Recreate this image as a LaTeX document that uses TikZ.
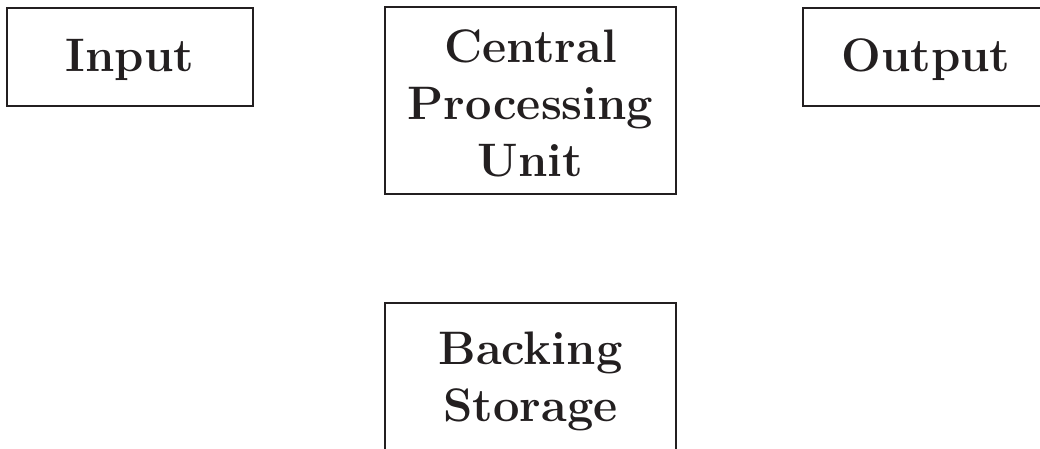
\documentclass[tikz,border=0pt]{standalone}
\begin{document}
\begin{tikzpicture}[x=1pt,y=-1pt,
  unitbox/.style={draw=boxcol,line width=2.8pt,rectangle,inner sep=0pt},
  unittext/.style={inner sep=0pt,align=center,
    font=\bfseries\fontsize{47}{57}\selectfont,text=boxcol}]
\definecolor{boxcol}{HTML}{231F20}
\useasboundingbox (0,0) rectangle (1040,449);
\clip (0,0) rectangle (1040,449);
\node[unitbox,minimum width=246pt,minimum height=98pt] (input) at (130,57) {};
\node[unittext] (inputt) at ([yshift=-3pt]input.center) {Input};
\node[unitbox,minimum width=291pt,minimum height=187pt] (cpu) at (530.5,100.5) {};
\node[unittext] (cput) at ([yshift=-3pt]cpu.center) {Central\\Processing\\Unit};
\node[unitbox,minimum width=246pt,minimum height=98pt] (output) at (926,57) {};
\node[unittext] (outputt) at ([yshift=-3pt]output.center) {Output};
\node[unitbox,minimum width=291pt,minimum height=150pt] (store) at (530.5,378) {};
\node[unittext] (storet) at ([yshift=-3pt]store.center) {Backing\\Storage};
\end{tikzpicture}
\end{document}
